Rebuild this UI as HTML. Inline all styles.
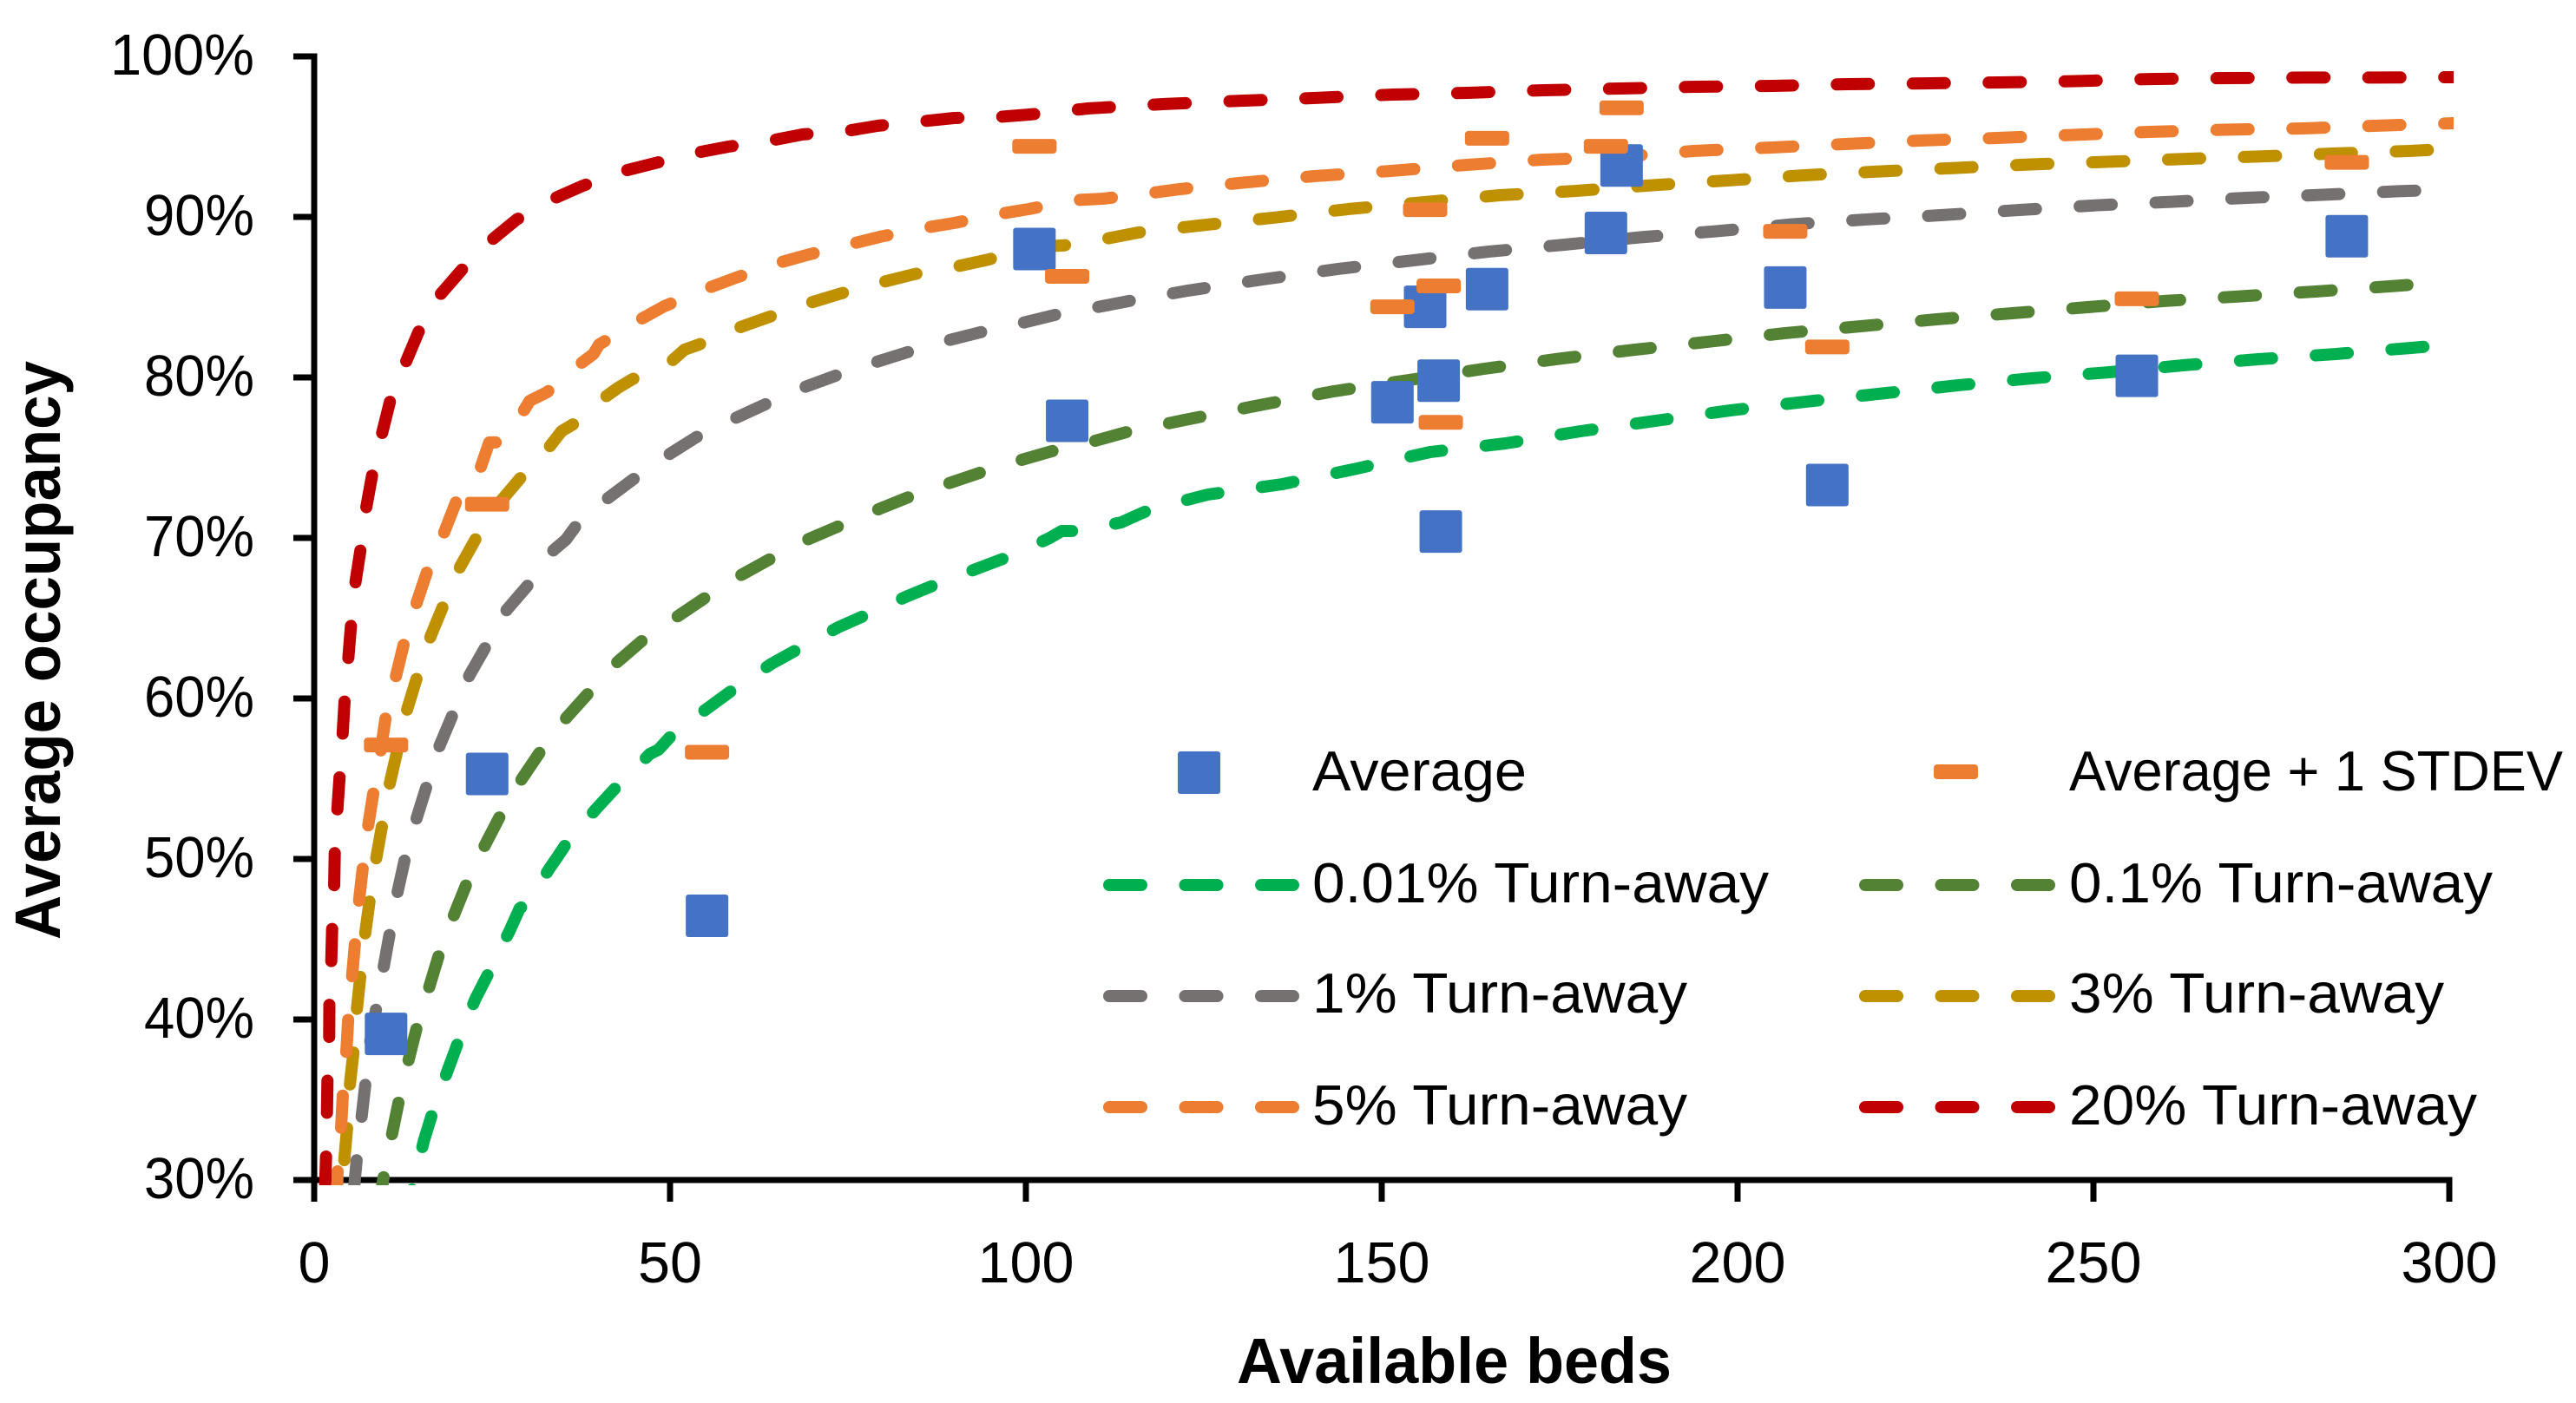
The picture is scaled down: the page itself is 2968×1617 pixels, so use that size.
<!DOCTYPE html>
<html lang="en">
<head>
<meta charset="utf-8">
<title>Average occupancy vs available beds</title>
<style>
html,body{margin:0;padding:0;background:#fff;}
svg{display:block;}
text{font-family:"Liberation Sans",sans-serif;fill:#000;}
</style>
</head>
<body>
<svg id="chart" xmlns="http://www.w3.org/2000/svg" width="2968" height="1617" viewBox="0 0 2968 1617">
  <defs>
    <clipPath id="plot-clip"><rect x="340" y="0" width="2487" height="1366"/></clipPath>
  </defs>
  <rect x="0" y="0" width="2968" height="1617" fill="#ffffff"/>
  <g id="axes"></g>
  <g id="lines" clip-path="url(#plot-clip)"></g>
  <g id="points"></g>

  <text transform="translate(69,1083) rotate(-90)" font-size="74" font-weight="700" textLength="667" lengthAdjust="spacingAndGlyphs">Average occupancy</text>
  <text x="1425" y="1594" font-size="74" font-weight="700" textLength="501" lengthAdjust="spacingAndGlyphs">Available beds</text>

  <g>
    <g>
      <rect x="1357" y="866" width="49" height="49" rx="3" fill="#4472C4"/>
      <text x="1512" y="911" font-size="65" textLength="247" lengthAdjust="spacingAndGlyphs">Average</text>
    </g>
    <g>
      <rect x="2228" y="881" width="51" height="17" rx="4" fill="#ED7D31"/>
      <text x="2384" y="911" font-size="65" textLength="569" lengthAdjust="spacingAndGlyphs">Average + 1 STDEV</text>
    </g>
    <g>
      <line x1="1278" y1="1020" x2="1491" y2="1020" stroke="#00B050" stroke-width="14" stroke-linecap="round" stroke-dasharray="37 50.5"/>
      <text x="1512" y="1040" font-size="65" textLength="526" lengthAdjust="spacingAndGlyphs">0.01% Turn-away</text>
    </g>
    <g>
      <line x1="2149" y1="1020" x2="2362" y2="1020" stroke="#548235" stroke-width="14" stroke-linecap="round" stroke-dasharray="37 50.5"/>
      <text x="2384" y="1040" font-size="65" textLength="488" lengthAdjust="spacingAndGlyphs">0.1% Turn-away</text>
    </g>
    <g>
      <line x1="1278" y1="1148" x2="1491" y2="1148" stroke="#767171" stroke-width="14" stroke-linecap="round" stroke-dasharray="37 50.5"/>
      <text x="1512" y="1167" font-size="65" textLength="432" lengthAdjust="spacingAndGlyphs">1% Turn-away</text>
    </g>
    <g>
      <line x1="2149" y1="1148" x2="2362" y2="1148" stroke="#BF9000" stroke-width="14" stroke-linecap="round" stroke-dasharray="37 50.5"/>
      <text x="2384" y="1167" font-size="65" textLength="432" lengthAdjust="spacingAndGlyphs">3% Turn-away</text>
    </g>
    <g>
      <line x1="1278" y1="1276" x2="1491" y2="1276" stroke="#ED7D31" stroke-width="14" stroke-linecap="round" stroke-dasharray="37 50.5"/>
      <text x="1512" y="1296" font-size="65" textLength="432" lengthAdjust="spacingAndGlyphs">5% Turn-away</text>
    </g>
    <g>
      <line x1="2149" y1="1276" x2="2362" y2="1276" stroke="#C00000" stroke-width="14" stroke-linecap="round" stroke-dasharray="37 50.5"/>
      <text x="2384" y="1296" font-size="65" textLength="470" lengthAdjust="spacingAndGlyphs">20% Turn-away</text>
    </g>
  </g>
</svg>
<script>
const xTicks = [0, 50, 100, 150, 200, 250, 300];
const yTicks = [30, 40, 50, 60, 70, 80, 90, 100];
const xTickLabels = ["0", "50", "100", "150", "200", "250", "300"];
const yTickLabels = ["30%", "40%", "50%", "60%", "70%", "80%", "90%", "100%"];

const pointBeds = [10.1, 24.3, 55.2, 101.2, 105.8, 151.5, 156.1, 158, 158.3, 164.8, 181.5, 183.7, 206.7, 212.6, 256.1, 285.6];
const averageOcc = [39.1, 55.3, 46.46, 88.0, 77.3, 78.45, 84.4, 79.8, 70.4, 85.5, 89.0, 93.2, 85.6, 73.3, 80.1, 88.8];
const averagePlusStdevOcc = [57.1, 72.1, 56.65, 94.4, 86.3, 84.4, 90.45, 85.7, 77.2, 94.9, 94.4, 96.8, 89.1, 81.9, 84.9, 93.4];

const beds001 = [12.68,13.78,15.4,16.71,18.78,20.37,22.6,24.79,27.44,28.87,29.79,33.21,34.15,35.77,39.76,42.8,47.16,48.38,50.61,55.49,59.15,64.27,68.26,73.62,77.72,83.38,87.56,93.26,97.44,103.13,105.04,107.35,113.38,115.61,117.48,125.55,136.04,146.46,156.8,167.39,177.93,188.46,199.02,209.63,220.3,230.93,241.54,252.07,262.77,273.38,284.07,294.63,300];
const occ001 = [27.46,29.46,32.43,34.32,36.86,38.76,41.24,43.14,45.51,46.92,47.19,49.51,50.11,51.19,53.19,54.65,56.54,56.81,57.89,59.46,60.65,62.16,63.14,64.43,65.24,66.38,67.14,68.11,68.81,69.95,70.43,70.43,70.97,71.41,71.78,72.7,73.35,74.32,75.35,75.89,76.65,77.3,77.95,78.49,79.0,79.51,79.95,80.32,80.76,81.14,81.46,81.84,82.05];

const beds01 = [9.02,9.79,10.94,11.87,13.26,14.39,16.18,17.48,19.67,21.34,23.99,26.01,29.15,31.71,35.45,38.41,42.6,46.13,50.94,54.76,59.96,63.9,69.27,73.54,79.23,83.5,89.18,93.45,99.35,103.7,109.7,114.1,122.3,132.8,143.3,153.8,164.4,174.9,185.6,196.2,206.7,217.3,228.0,238.6,249.2,260.0,270.5,281.2,291.8,300];
const occ01 = [28.2,30.27,32.86,34.86,37.46,39.46,42.05,43.95,46.54,48.38,50.86,52.59,54.97,56.65,58.81,60.27,62.27,63.62,65.08,66.22,67.68,68.65,69.89,70.7,71.78,72.54,73.41,74.05,74.86,75.41,76.05,76.59,77.35,78.27,79.14,79.84,80.54,81.16,81.73,82.24,82.76,83.19,83.62,84.0,84.38,84.76,85.05,85.35,85.68,85.95];

const beds1 = [5.55,5.98,6.67,7.2,7.87,8.7,9.79,10.61,11.74,12.72,14.43,15.77,17.65,19.39,21.83,24.06,27.04,30.09,33.62,35.37,36.71,41.13,44.72,49.79,53.66,59.15,63.35,68.99,73.26,79.02,83.33,89.18,93.57,99.6,104.06,110.0,114.51,122.8,133.3,143.9,154.5,165.0,175.7,186.3,197.0,207.7,218.3,229.0,239.6,250.2,260.9,271.5,282.2,292.8,300];
const occ1 = [29.24,31.3,33.95,36.0,38.59,40.65,43.35,45.35,48.0,49.95,52.59,54.49,57.08,58.92,61.46,63.19,65.51,67.08,69.24,69.89,70.7,72.43,73.62,75.19,76.27,77.46,78.32,79.41,80.11,80.97,81.57,82.32,82.81,83.41,83.89,84.38,84.76,85.41,86.11,86.76,87.3,87.84,88.27,88.73,89.11,89.54,89.85,90.12,90.43,90.72,90.94,91.19,91.38,91.6,91.7];

const beds3 = [4.23,4.63,5.04,5.52,6.01,6.5,7.2,7.8,8.74,9.55,10.65,11.71,13.09,14.43,16.38,18.09,20.52,22.77,25.98,29.06,33.13,34.76,36.38,40.98,42.68,44.72,50.09,52.04,54.06,59.55,63.66,69.67,74.06,79.96,84.3,90.33,94.79,100.49,105.24,111.34,115.85,124.27,134.76,145.37,156.04,166.59,177.32,187.8,198.54,209.15,219.88,230.55,241.16,251.83,262.56,273.17,283.84,294.45,300];
const occ3 = [31.24,33.3,36.05,38.0,40.7,42.76,45.46,47.46,50.11,52.11,54.76,56.81,59.35,61.3,63.89,65.73,68.22,70.0,72.16,73.78,75.73,76.65,77.08,78.81,79.35,79.89,80.97,81.73,82.05,83.08,83.73,84.65,85.24,85.95,86.43,86.92,87.35,88.11,88.22,88.65,89.03,89.46,89.95,90.49,90.92,91.35,91.62,91.97,92.27,92.59,92.83,93.05,93.27,93.43,93.61,93.76,93.95,94.11,94.24];

const beds5 = [3.17,3.29,3.78,4.02,4.51,4.79,5.33,5.73,6.3,6.83,7.6,8.33,9.35,10.04,11.5,12.6,14.39,15.85,18.29,19.91,23.38,24.6,25.89,29.55,30.28,32.72,36.79,39.23,40.04,45.0,49.18,54.67,58.94,64.79,69.18,75.04,79.51,85.45,89.91,95.94,100.49,106.46,110.98,117.04,121.62,129.88,140.55,151.1,161.8,172.6,183.0,193.8,204.5,215.1,225.9,236.5,247.1,257.8,268.4,279.1,289.8,300.6];
const occ5 = [28.54,30.59,33.24,35.35,37.95,40.11,42.7,44.76,47.41,49.46,52.11,54.16,56.76,58.81,61.41,63.41,65.95,67.89,70.38,72.22,74.38,75.95,75.95,78.0,78.54,79.08,80.65,81.46,82.05,83.41,84.43,85.46,86.16,87.08,87.62,88.27,88.76,89.3,89.62,90.16,90.49,91.03,91.14,91.46,91.73,92.11,92.54,92.86,93.24,93.57,93.73,94.11,94.32,94.54,94.76,94.92,95.11,95.3,95.43,95.51,95.68,95.84];

const beds20 = [1.52,1.67,1.79,1.87,2.11,2.13,2.4,2.52,2.8,2.89,3.26,3.57,3.99,4.27,4.79,5.16,5.82,6.5,7.32,8.13,9.55,10.65,12.89,14.63,17.77,20.73,24.88,28.45,33.66,37.8,43.5,47.89,53.74,58.21,64.18,68.66,74.76,79.23,85.33,89.91,95.98,100.49,108.9,119.5,130.2,140.7,151.5,162.1,172.8,183.5,194.1,204.9,215.5,226.1,236.8,247.4,258.0,268.8,279.5,290.1,300.6];
const occ20 = [29.46,31.51,34.16,36.22,38.86,40.97,43.62,45.68,48.27,50.38,53.08,55.14,57.73,59.84,62.49,64.49,67.3,69.24,71.89,73.89,76.54,78.49,80.97,82.81,85.19,86.7,88.54,89.84,91.14,91.95,92.86,93.35,94.0,94.38,94.76,95.14,95.35,95.68,95.95,96.16,96.22,96.38,96.76,97.03,97.24,97.41,97.62,97.73,97.89,98.0,98.11,98.16,98.27,98.32,98.38,98.46,98.59,98.65,98.68,98.68,98.7];

const SVG_NS = "http://www.w3.org/2000/svg";
function xPos(b) { return 362 + b * 8.2; }
function yPos(p) { return 65 + (100 - p) * 18.5; }
function mk(tag, parent, attrs) {
  const el = document.createElementNS(SVG_NS, tag);
  for (const k in attrs) el.setAttribute(k, attrs[k]);
  parent.appendChild(el);
  return el;
}
function linePath(bs, os) {
  return bs.map(function (b, i) {
    return (i ? "L" : "M") + xPos(b).toFixed(1) + " " + yPos(os[i]).toFixed(1);
  }).join(" ");
}

const axesG = document.getElementById("axes");
const linesG = document.getElementById("lines");
const pointsG = document.getElementById("points");

/* axes */
const yAxisLine = mk("rect", axesG, {x: xPos(0) - 3.5, y: yPos(100) - 3.5, width: 7, height: 1385 - yPos(100) + 3.5, fill: "#000"});


const xAxisLine = mk("rect", axesG, {x: xPos(0), y: yPos(30) - 3.5, width: xPos(300) - xPos(0) + 3.5, height: 7, fill: "#000"});



yTicks.forEach(function (v, i) {
  const t = mk("rect", axesG, {x: 338, y: yPos(v) - 3.5, width: 24, height: 7, fill: "#000"});
  
  
  const label = mk("text", axesG, {x: 293, y: yPos(v) + 21, "font-size": 67, "text-anchor": "end", textLength: yTickLabels[i].length === 4 ? 166 : 127, lengthAdjust: "spacingAndGlyphs"});
  label.textContent = yTickLabels[i];
  
  
});
xTicks.forEach(function (v, i) {
  const t = mk("rect", axesG, {x: xPos(v) - 3.5, y: yPos(30), width: 7, height: 25, fill: "#000"});
  
  
  const label = mk("text", axesG, {x: xPos(v), y: 1478, "font-size": 67, "text-anchor": "middle", textLength: xTickLabels[i].length * 37, lengthAdjust: "spacingAndGlyphs"});
  label.textContent = xTickLabels[i];
  
  
});

/* curves */
function drawCurve(bs, os, color) {
  return mk("path", linesG, {d: linePath(bs, os), fill: "none", stroke: color, "stroke-width": 14, "stroke-linecap": "round", "stroke-linejoin": "round", "stroke-dasharray": "37 50.5"});
}
const curve001 = drawCurve(beds001, occ001, "#00B050");


const curve01 = drawCurve(beds01, occ01, "#548235");


const curve1 = drawCurve(beds1, occ1, "#767171");


const curve3 = drawCurve(beds3, occ3, "#BF9000");


const curve5 = drawCurve(beds5, occ5, "#ED7D31");


const curve20 = drawCurve(beds20, occ20, "#C00000");



/* points */
pointBeds.forEach(function (b, i) {
  const r = mk("rect", pointsG, {x: xPos(b) - 24.5, y: yPos(averageOcc[i]) - 24.5, width: 49, height: 49, rx: 3, fill: "#4472C4"});
  
  
});
pointBeds.forEach(function (b, i) {
  const r = mk("rect", pointsG, {x: xPos(b) - 25.5, y: yPos(averagePlusStdevOcc[i]) - 8.5, width: 51, height: 17, rx: 4, fill: "#ED7D31"});
  
  
});
</script>
</body>
</html>
